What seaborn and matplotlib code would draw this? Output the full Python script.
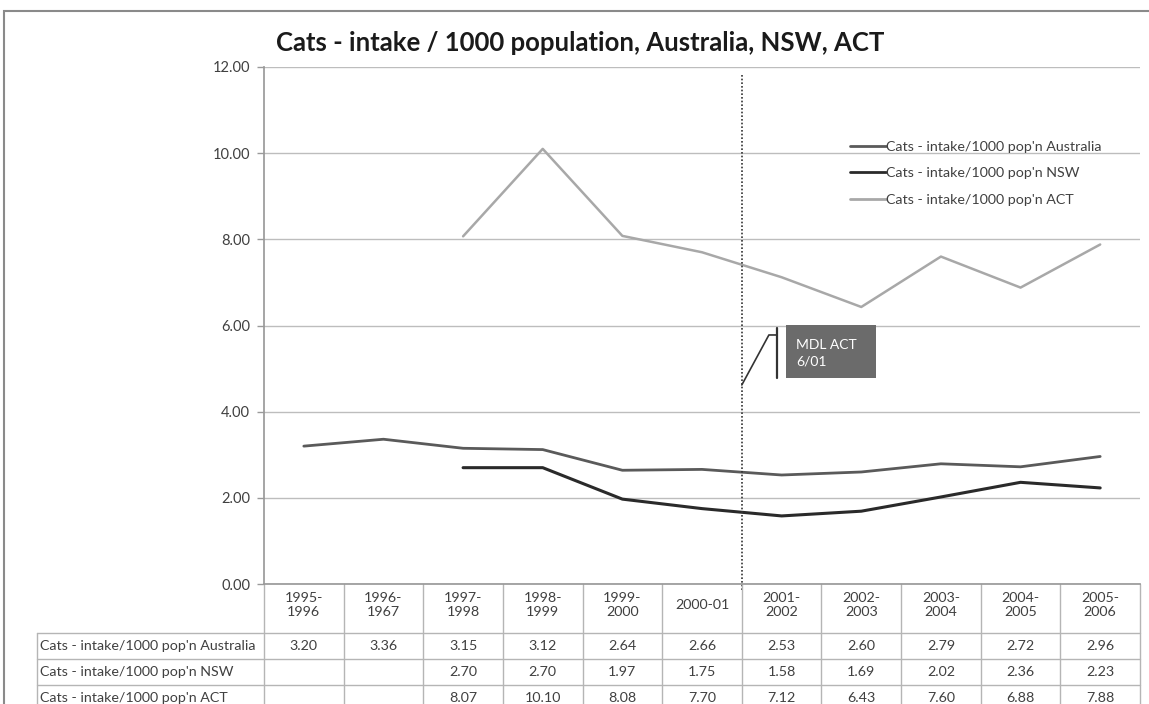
import numpy as np
import pandas as pd
import matplotlib
matplotlib.use("Agg")
import matplotlib.pyplot as plt
import matplotlib.transforms as mtrans
from matplotlib.patches import Rectangle
import seaborn as sns

periods = ["1995-\n1996", "1996-\n1967", "1997-\n1998", "1998-\n1999", "1999-\n2000",
           "2000-01", "2001-\n2002", "2002-\n2003", "2003-\n2004", "2004-\n2005", "2005-\n2006"]
australia = [3.20, 3.36, 3.15, 3.12, 2.64, 2.66, 2.53, 2.60, 2.79, 2.72, 2.96]
nsw = [np.nan, np.nan, 2.70, 2.70, 1.97, 1.75, 1.58, 1.69, 2.02, 2.36, 2.23]
act = [np.nan, np.nan, 8.07, 10.10, 8.08, 7.70, 7.12, 6.43, 7.60, 6.88, 7.88]
series_names = ["Cats - intake/1000 pop'n Australia",
                "Cats - intake/1000 pop'n NSW",
                "Cats - intake/1000 pop'n ACT"]
series_vals = [australia, nsw, act]
colors = ["#5a5a5a", "#2a2a2a", "#a8a8a8"]
title = "Cats - intake / 1000 population, Australia, NSW, ACT"
y_ticks = [0, 2, 4, 6, 8, 10, 12]
marker_pos = 5.5
note = "MDL ACT\n6/01"

sns.set_theme(style="white")
plt.rcParams['font.family'] = ['Lato', 'DejaVu Sans']

rows = []
for name, vals in zip(series_names, series_vals):
    for i, v in enumerate(vals):
        rows.append({"idx": i, "value": v, "series": name})
df = pd.DataFrame(rows).dropna()

W, H = 1149, 704
AX_L, AX_B, AX_W, AX_H = 264, 584, 876, 517
fig = plt.figure(figsize=(W / 100, H / 100), dpi=100)
fig.patch.set_facecolor("white")
ax = fig.add_axes([AX_L / W, (H - AX_B) / H, AX_W / W, AX_H / H])

sns.lineplot(data=df, x="idx", y="value", hue="series", hue_order=series_names,
             palette=colors, linewidth=2.0, ax=ax, legend=True, sort=True)
for ln, lw in zip(ax.lines[:3], [2.0, 2.2, 1.8]):
    ln.set_linewidth(lw)

n = len(periods)
ax.set_xlim(-0.5, n - 0.5)
ax.set_ylim(0, 12)
ax.set_yticks(y_ticks)
ax.set_yticklabels([f"{t:.2f}" for t in y_ticks], fontsize=10.5, color="#404040")
ax.set_xticks([])
ax.set_xlabel("")
ax.set_ylabel("")
ax.grid(axis="y", color="#bdbdbd", linewidth=1.0)
ax.set_axisbelow(True)
for s in ["top", "right"]:
    ax.spines[s].set_visible(False)
ax.spines["left"].set_color("#9a9a9a")
ax.spines["bottom"].set_color("#9a9a9a")
ax.tick_params(axis="y", length=5, width=1, color="#9a9a9a", left=True, pad=5)

leg = ax.legend(loc="upper left", bbox_to_anchor=(0.654, 0.882), frameon=False,
                fontsize=10.3, handlelength=2.5, handletextpad=0.0, labelspacing=1.0)
for t in leg.get_texts():
    t.set_color("#404040")

fig.text(580 / W, 1 - 43 / H, title, ha="center", va="center", fontsize=18.5,
         fontweight="bold", color="#1a1a1a")

# dotted marker line
ax.plot([marker_pos, marker_pos], [11.81, -0.15], color="#333333", linestyle=(0, (1, 1.2)),
        linewidth=1.2, clip_on=False)
# annotation callout
ax.plot([marker_pos, 5.84, 5.94], [4.62, 5.78, 5.78], color="#333333", linewidth=1.2)
ax.plot([5.94, 5.94], [4.78, 5.94], color="#333333", linewidth=1.6)
ax.add_patch(Rectangle((6.05, 4.78), 1.14, 1.23, facecolor="#6b6b6b", edgecolor="none"))
ax.text(6.18, 5.36, note, ha="left", va="center", fontsize=10, color="white", linespacing=1.4)

# data table
tr = mtrans.blended_transform_factory(ax.transData, ax.transAxes)
y_head = -49 / AX_H
y_rows = [y_head, -75 / AX_H, -101 / AX_H, -127 / AX_H]
x_left = -0.5 - (AX_L - 37) / (AX_W / n)
lc = "#b5b5b5"
for yy in y_rows:
    ax.plot([x_left, n - 0.5], [yy, yy], color=lc, linewidth=1.0, transform=tr, clip_on=False)
for b in range(n + 1):
    xb = b - 0.5
    ax.plot([xb, xb], [0, y_rows[-1]], color=lc, linewidth=1.0, transform=tr, clip_on=False)
ax.plot([x_left, x_left], [y_head, y_rows[-1]], color=lc, linewidth=1.0, transform=tr, clip_on=False)
for i, p in enumerate(periods):
    ax.text(i, -21 / AX_H, p, ha="center", va="center", fontsize=10.3, color="#404040",
            transform=tr, linespacing=1.2)
for r, (name, vals) in enumerate(zip(series_names, series_vals)):
    yc = (y_rows[r] + y_rows[r + 1]) / 2
    ax.text(x_left + 0.04, yc, name, ha="left", va="center", fontsize=10.3, color="#404040",
            transform=tr)
    for i, v in enumerate(vals):
        if not np.isnan(v):
            ax.text(i, yc, f"{v:.2f}", ha="center", va="center", fontsize=10.3,
                    color="#404040", transform=tr)

# outer chart frame
fig.add_artist(Rectangle((4 / W, -0.1), 1.2, 1 - 11 / H + 0.1, transform=fig.transFigure,
                         facecolor="none", edgecolor="#8a8a8a", linewidth=1.5))

fig.savefig("out.png", dpi=100, facecolor="white")
